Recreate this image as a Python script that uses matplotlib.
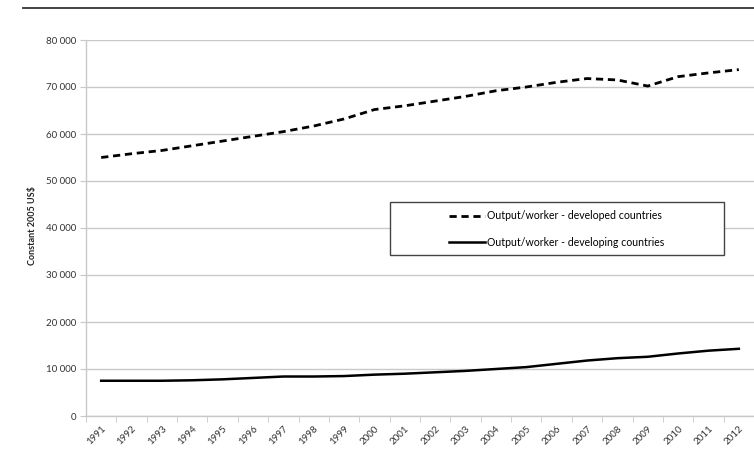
import matplotlib
matplotlib.use("Agg")
import matplotlib.pyplot as plt
from matplotlib.lines import Line2D
from matplotlib.patches import Rectangle
import numpy as np

years = [str(y) for y in range(1991, 2013)]
developed = [55000, 55800, 56500, 57500, 58500, 59500, 60500, 61700, 63200, 65200,
             66000, 67000, 68000, 69200, 70000, 71000, 71800, 71500, 70200, 72200,
             73000, 73700]
developing = [7500, 7500, 7500, 7600, 7800, 8100, 8400, 8400, 8500, 8800,
              9000, 9300, 9600, 10000, 10400, 11100, 11800, 12300, 12600, 13300,
              13900, 14300]
yticks = [0, 10000, 20000, 30000, 40000, 50000, 60000, 70000, 80000]
ytick_labels = ["0", "10 000", "20 000", "30 000", "40 000", "50 000", "60 000", "70 000", "80 000"]
label_dev = "Output/worker - developed countries"
label_ing = "Output/worker - developing countries"
ylabel = "Constant 2005 US$"

plt.rcParams['font.family'] = ['Lato', 'DejaVu Sans']

fig = plt.figure(figsize=(7.54, 4.67), dpi=100)
W, H = 754, 467
ax = fig.add_axes([86 / W, 1 - 416 / H, (754 - 86) / W, (416 - 40) / H])

x = np.arange(len(years))
ax.plot(x, developed, color='black', lw=2.0, linestyle=(0, (2.6, 1.7)), label=label_dev)
ax.plot(x, developing, color='black', lw=1.8, linestyle='-', label=label_ing)

ax.set_xlim(-0.5, len(years) - 0.5)
ax.set_ylim(0, 80000)
ax.set_yticks(yticks)
ax.set_yticklabels(ytick_labels, fontsize=7, color='#333333')
ax.yaxis.grid(True, color='#c8c8c8', lw=1)
ax.set_axisbelow(True)
ax.tick_params(axis='y', length=4, color='#c8c8c8', pad=3)

ax.set_xticks(x)
ax.set_xticklabels(years, rotation=45, ha='right', rotation_mode='anchor', fontsize=7, color='#333333')
ax.tick_params(axis='x', which='major', length=0, pad=6)
ax.set_xticks(np.arange(-0.5, len(years) + 0.5, 1), minor=True)
ax.tick_params(axis='x', which='minor', length=4, color='#c8c8c8')

for s in ['top', 'right']:
    ax.spines[s].set_visible(False)
for s in ['left', 'bottom']:
    ax.spines[s].set_color('#c8c8c8')
    ax.spines[s].set_linewidth(1)

fig.text(33 / W, 1 - 226 / H, ylabel, rotation=90, ha='center', va='center',
         fontsize=6.5, fontweight='bold', color='#222222')

# legend box
fig.patches.append(Rectangle((390 / W, 1 - 255 / H), (724 - 390) / W, (255 - 202) / H,
                             transform=fig.transFigure, fill=True, facecolor='white',
                             edgecolor='#444444', lw=1, zorder=5))
leg = fig.legend(loc='center', bbox_to_anchor=(557 / W, 1 - 229 / H), frameon=False,
                 fontsize=7.6, handlelength=3.4, labelspacing=1.45, handletextpad=0.2)
leg.set_zorder(6)

# top rule
fig.add_artist(Line2D([23 / W, 1.0], [1 - 8 / H, 1 - 8 / H], transform=fig.transFigure,
                      color='#333333', lw=1.3))

fig.savefig('out.png', dpi=100)
